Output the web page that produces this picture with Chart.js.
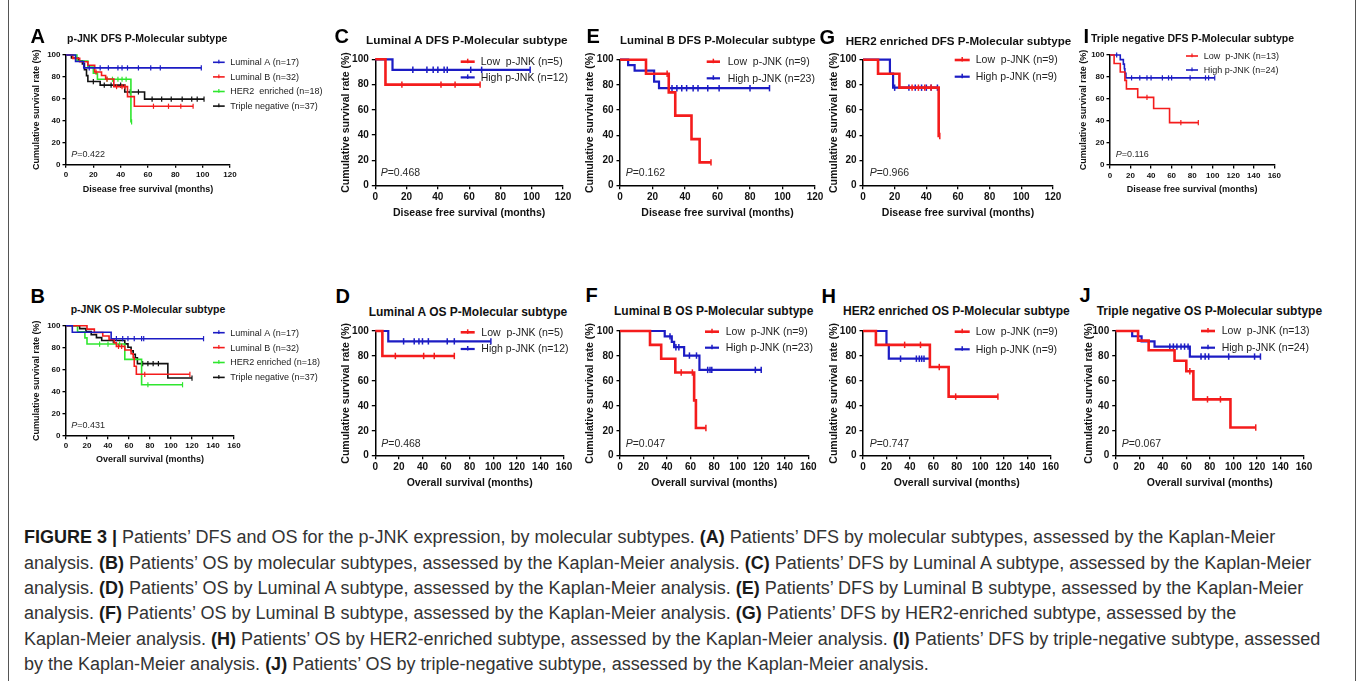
<!DOCTYPE html>
<html><head><meta charset="utf-8">
<script src="https://cdn.jsdelivr.net/npm/chart.js@4.4.1/dist/chart.umd.min.js"></script>
<style>
html,body{margin:0;padding:0;background:#fff;}
body{width:1357px;height:681px;position:relative;overflow:hidden;font-family:"Liberation Sans",Arial,Helvetica,sans-serif;}
.t{position:absolute;white-space:nowrap;line-height:1;}
canvas{position:absolute;}
.cap{position:absolute;left:24px;white-space:nowrap;line-height:1;font-size:18px;color:#333;}
.cap b{color:#1a1a1a;}
.frame{position:absolute;top:0;width:0;height:681px;border-left:1.5px solid #555;}
</style></head><body>
<div class="frame" style="left:7.5px"></div>
<div class="frame" style="left:1354.5px"></div>
<script>
// ---------- tick labels ----------
const X_TICKS_120 = [0, 20, 40, 60, 80, 100, 120];
const X_TICKS_160 = [0, 20, 40, 60, 80, 100, 120, 140, 160];
const Y_TICKS = [0, 20, 40, 60, 80, 100];

// ---------- panel A: DFS by molecular subtype ----------
const A_lumA_steps = [[0,100],[7,94.1],[13,88.2]];
const A_lumA_cens  = [17,25,31,38,41,45,53,62,69,99];
const A_lumB_steps = [[0,100],[5,96.9],[10,93.8],[16,90.6],[21,84.4],[26,81.2],[29,78.0],[35,71.1],[45,61.9],[50,53.1]];
const A_lumB_cens  = [22,30,37,41,43,64,75,84,93];
const A_her2_steps = [[0,100],[8,94.4],[16,88.9],[20,83.3],[23,77.8],[47.5,38.9]];
const A_her2_cens  = [30,34,38,41,44,48];
const A_tn_steps   = [[0,100],[4,97.3],[9,94.6],[12,91.9],[13.5,86.5],[15,81.1],[16,75.7],[25,72.4],[43,66.2],[57.5,59.6]];
const A_tn_cens    = [20,28,33,40,47,53,63,70,77,85,92,96,101];

// ---------- panel B: OS by molecular subtype ----------
const B_lumA_steps = [[0,100],[6,94.1],[43,88.2]];
const B_lumA_cens  = [48,54,59,65,72,74,131];
const B_lumB_steps = [[0,100],[20,96.9],[27,93.8],[35,90.6],[41,87.5],[46,84.4],[48,81.2],[56,77.9],[62,74.5],[64,70.8],[65,63.1],[67,55.8]];
const B_lumB_cens  = [50,53,75,118];
const B_her2_steps = [[0,100],[11,94.4],[18,88.9],[20,83.3],[56,69.4],[72,46.3]];
const B_her2_cens  = [32,40,51,78,111];
const B_tn_steps   = [[0,100],[13,97.3],[19,94.6],[24,91.9],[29,89.2],[34,86.5],[56,83.5],[59,80.4],[62,77.2],[64,74.0],[66,70.8],[68,65.5],[97,52.4]];
const B_tn_cens    = [45,73,78,83,88,120];

// ---------- panels C-J: low vs high p-JNK ----------
const C_low_steps  = [[0,100],[6.5,80]];
const C_low_cens   = [17,42,51,67];
const C_high_steps = [[0,100],[11,91.7]];
const C_high_cens  = [24,33,37,40,44,46,61,68,99];

const D_low_steps  = [[0,100],[6,80]];
const D_low_cens   = [17,41,50,67];
const D_high_steps = [[0,100],[11,91.7]];
const D_high_cens  = [24,33,37,40,45,61,67,98];

const E_low_steps  = [[0,100],[16,88.9],[30,74.1],[34,55.6],[44,37.0],[49,18.5]];
const E_low_cens   = [29,56];
const E_high_steps = [[0,100],[5,95.7],[9,91.3],[21,82.6],[24,77.4]];
const E_high_cens  = [32,35,38,41,45,48,54,61,80,92];

const F_low_steps  = [[0,100],[25.5,88.9],[35,77.8],[47,66.7],[63,44.4],[64.5,22.2]];
const F_low_cens   = [52,61.5,73];
const F_high_steps = [[0,100],[38,95.7],[44,91.3],[46,87.0],[54.5,80.3],[67.5,68.8]];
const F_high_cens  = [42.5,47.5,50,59,65,74.5,76.5,78,115,120];

const G_low_steps  = [[0,100],[9.5,88.9],[23,77.8],[47.8,39.5]];
const G_low_cens   = [31,35,39,43,48.5];
const G_high_steps = [[0,100],[17,88.9],[19,77.8]];
const G_high_cens  = [20,29,33,37,40,43,47];

const H_low_steps  = [[0,100],[11,88.9],[57,71.1],[73,47.4]];
const H_low_cens   = [35.5,49,65,79,115];
const H_high_steps = [[0,100],[20,88.9],[22,77.8]];
const H_high_cens  = [32,45.5,48,50,52,57];

const I_low_steps  = [[0,100],[4,92.3],[10,84.6],[14.5,76.9],[16,69.2],[27,61.5],[42.5,51.3],[58,38.5]];
const I_low_cens   = [36,69,86];
const I_high_steps = [[0,100],[10,95.8],[13,91.7],[14,87.5],[14.5,83.3],[15.5,79.2]];
const I_high_cens  = [6.5,21,29,36,40,51,57,60,78,93,96,102];

const J_low_steps  = [[0,100],[19,92.3],[28,84.6],[50,76.2],[60,67.7],[66,45.2],[97.5,22.6]];
const J_low_cens   = [63,78,89,119];
const J_high_steps = [[0,100],[14,95.8],[22,91.7],[33,87.5],[63,79.5]];
const J_high_cens  = [46,49,52,55.5,58.5,61.5,72.5,76,79,96,118,123];

// ---------- text ----------
const SUBTYPE_LABELS = ['Luminal A (n=17)', 'Luminal B (n=32)', 'HER2  enriched (n=18)', 'Triple negative (n=37)'];
const SUBTYPE_LABELS_B = ['Luminal A (n=17)', 'Luminal B (n=32)', 'HER2 enriched (n=18)', 'Triple negative (n=37)'];
const P_VALUES = {A:'0.422', B:'0.431', C:'0.468', D:'0.468', E:'0.162', F:'0.047', G:'0.966', H:'0.747', I:'0.116', J:'0.067'};
const TITLES = {
  A:'p-JNK DFS P-Molecular subtype', B:'p-JNK OS P-Molecular subtype',
  C:'Luminal A DFS P-Molecular subtype', D:'Luminal A OS P-Molecular subtype',
  E:'Luminal B DFS P-Molecular subtype', F:'Luminal B OS P-Molecular subtype',
  G:'HER2 enriched DFS P-Molecular subtype', H:'HER2 enriched OS P-Molecular subtype',
  I:'Triple negative DFS P-Molecular subtype', J:'Triple negative OS P-Molecular subtype'
};
const DFS_TITLE = 'Disease free survival (months)';
const OS_TITLE = 'Overall survival (months)';
const Y_TITLE = 'Cumulative survival rate (%)';

const FONT = '"Liberation Sans", Arial, Helvetica, sans-serif';
const BLUE = '#1c1cc4', RED = '#f41c1c', GREEN = '#2fe62f', BLACK = '#111111';

function buildPoints(steps, cens) {
  const pts = steps.map(([t, s]) => ({x: t, y: s, c: 0}));
  cens.forEach(t => {
    let s = steps[0][1];
    for (const [st, sv] of steps) if (st <= t) s = sv;
    pts.push({x: t, y: s, c: 1});
  });
  pts.sort((a, b) => (a.x - b.x) || (a.c - b.c));
  return pts;
}

function addText(html, x, base, size, weight, color) {
  const d = document.createElement('div');
  d.className = 't';
  d.style.left = x + 'px';
  d.style.top = (base - 0.8465 * size) + 'px';
  d.style.fontSize = size + 'px';
  d.style.fontWeight = weight;
  d.style.color = color;
  d.innerHTML = html;
  document.body.appendChild(d);
}

const kmDecor = {
  id: 'kmDecor',
  afterDraw(chart, args, o) {
    const ctx = chart.ctx;
    ctx.save();
    const lg = o.legend;
    chart.data.datasets.forEach((ds, i) => {
      const y = lg.y0 + i * lg.dy - o.top;
      const x1 = lg.x1 - o.left, x2 = lg.x2 - o.left;
      ctx.strokeStyle = ds.borderColor;
      ctx.lineWidth = ds.borderWidth;
      ctx.beginPath(); ctx.moveTo(x1, y); ctx.lineTo(x2, y); ctx.stroke();
      const xm = (x1 + x2) / 2;
      ctx.lineWidth = ds.pointBorderWidth;
      ctx.beginPath(); ctx.moveTo(xm, y - lg.tick); ctx.lineTo(xm, y + lg.tick * 0.5); ctx.stroke();
      ctx.fillStyle = '#222';
      ctx.font = lg.size + 'px ' + FONT;
      ctx.textBaseline = 'middle';
      ctx.textAlign = 'left';
      ctx.fillText(ds.label, lg.tx - o.left, y + 0.5);
    });
    const p = o.p;
    ctx.fillStyle = '#2a2a2a';
    ctx.textBaseline = 'alphabetic';
    ctx.font = 'italic ' + p.size + 'px ' + FONT;
    const px = p.x - o.left, py = p.y - o.top;
    ctx.fillText('P', px, py);
    const w = ctx.measureText('P').width;
    ctx.font = p.size + 'px ' + FONT;
    ctx.fillText('=' + p.val, px + w, py);
    ctx.restore();
  }
};

function makePanel(cfg) {
  const small = cfg.small;
  const tickSize = small ? 8 : 10;
  const axSize = small ? 9 : 10.5;
  const lh = axSize * 1.2;
  const left = Math.round(cfg.yTitleX - lh / 2);
  const top = Math.round(cfg.T - 10);
  const yW = cfg.L - left;
  const padTop = cfg.T - top;
  const padRight = Math.max(14, cfg.legend.tx + 95 - cfg.R);
  const xH = cfg.xTitleY + lh / 2 - cfg.B;
  const width = Math.ceil(yW + (cfg.R - cfg.L) + padRight);
  const height = Math.ceil(padTop + (cfg.B - cfg.T) + xH);
  const realPadRight = width - yW - (cfg.R - cfg.L);
  const realPadBottom = height - padTop - (cfg.B - cfg.T) - xH;

  const cv = document.createElement('canvas');
  cv.width = width; cv.height = height;
  cv.style.left = left + 'px'; cv.style.top = top + 'px';
  cv.style.width = width + 'px'; cv.style.height = height + 'px';
  document.body.appendChild(cv);

  const lw = small ? 1.6 : 2.2;
  const censR = small ? 2.6 : 3.2;
  const datasets = cfg.series.map(s => ({
    label: s.label,
    data: buildPoints(s.steps, s.cens),
    borderColor: s.color,
    borderWidth: s.color === RED && !small ? lw + 0.4 : lw,
    stepped: 'before',
    fill: false,
    tension: 0,
    pointStyle: 'line',
    pointRotation: 90,
    pointRadius: ctx => (ctx.raw && ctx.raw.c) ? censR : 0,
    pointHoverRadius: 0,
    pointHitRadius: 0,
    pointBorderColor: s.color,
    pointBackgroundColor: s.color,
    pointBorderWidth: small ? 1.2 : 1.5,
    clip: false
  }));

  const tickFont = {family: FONT, size: tickSize, weight: 'bold'};
  const titleFont = {family: FONT, size: axSize, weight: 'bold'};
  new Chart(cv, {
    type: 'line',
    data: {datasets},
    options: {
      responsive: false,
      animation: false,
      devicePixelRatio: 1,
      events: [],
      layout: {padding: {top: padTop, right: realPadRight, left: 0, bottom: realPadBottom}},
      plugins: {
        legend: {display: false},
        tooltip: {enabled: false},
        title: {display: false},
        kmDecor: {
          left, top,
          legend: {x1: cfg.legend.x1, x2: cfg.legend.x2, tx: cfg.legend.tx, y0: cfg.legend.y0, dy: cfg.legend.dy,
                   size: small ? 9 : 10.5, tick: small ? 2.5 : 3},
          p: {x: cfg.p.x, y: cfg.p.y, size: small ? 9 : 10.5, val: P_VALUES[cfg.id]}
        }
      },
      scales: {
        x: {
          type: 'linear', min: 0, max: cfg.xTicks[cfg.xTicks.length - 1], offset: false,
          afterBuildTicks: s => { s.ticks = cfg.xTicks.map(v => ({value: v})); },
          ticks: {autoSkip: false, maxRotation: 0, minRotation: 0, padding: 2, color: '#111', font: tickFont},
          grid: {display: true, drawOnChartArea: false, drawTicks: true, tickLength: 3.5, color: '#000', lineWidth: 1.3},
          border: {display: true, color: '#000', width: 1.5},
          title: {display: true, text: cfg.xTitle, color: '#111', font: titleFont, padding: 0},
          afterFit: s => { s.height = xH; }
        },
        y: {
          type: 'linear', min: 0, max: 100,
          afterBuildTicks: s => { s.ticks = Y_TICKS.map(v => ({value: v})); },
          ticks: {autoSkip: false, padding: small ? 2 : 3, color: '#111', font: tickFont},
          grid: {display: true, drawOnChartArea: false, drawTicks: true, tickLength: 3.5, color: '#000', lineWidth: 1.3},
          border: {display: true, color: '#000', width: 1.5},
          title: {display: true, text: Y_TITLE, color: '#111', font: titleFont, padding: 0},
          afterFit: s => { s.width = yW; }
        }
      }
    },
    plugins: [kmDecor]
  });

  // panel letter and title
  addText(cfg.id, cfg.letter.x, cfg.letter.base, 20, 'bold', '#000');
  addText(TITLES[cfg.id], cfg.title.x, cfg.title.base, cfg.title.size, 'bold', '#111');
}

function lowHigh(lowN, highN, lowSteps, lowCens, highSteps, highCens) {
  return [
    {label: 'Low  p-JNK (n=' + lowN + ')', steps: lowSteps, cens: lowCens, color: RED},
    {label: 'High p-JNK (n=' + highN + ')', steps: highSteps, cens: highCens, color: BLUE}
  ];
}

const panels = [
  {id:'A', small:true, L:66, T:55, R:230, B:164.3, yTitleX:36.5, xTitleY:189.3, xTicks:X_TICKS_120, xTitle:DFS_TITLE,
   series:[
     {label:SUBTYPE_LABELS[0], steps:A_lumA_steps, cens:A_lumA_cens, color:BLUE},
     {label:SUBTYPE_LABELS[1], steps:A_lumB_steps, cens:A_lumB_cens, color:RED},
     {label:SUBTYPE_LABELS[2], steps:A_her2_steps, cens:A_her2_cens, color:GREEN},
     {label:SUBTYPE_LABELS[3], steps:A_tn_steps, cens:A_tn_cens, color:BLACK}],
   legend:{x1:213, x2:224.7, tx:230.3, y0:62.3, dy:14.6}, p:{x:71.3, y:156.7},
   title:{x:67, base:42.3, size:10.5}, letter:{x:30.5, base:43}},
  {id:'B', small:true, L:66, T:325.7, R:234, B:435.7, yTitleX:36.5, xTitleY:460, xTicks:X_TICKS_160, xTitle:OS_TITLE,
   series:[
     {label:SUBTYPE_LABELS_B[0], steps:B_lumA_steps, cens:B_lumA_cens, color:BLUE},
     {label:SUBTYPE_LABELS_B[1], steps:B_lumB_steps, cens:B_lumB_cens, color:RED},
     {label:SUBTYPE_LABELS_B[2], steps:B_her2_steps, cens:B_her2_cens, color:GREEN},
     {label:SUBTYPE_LABELS_B[3], steps:B_tn_steps, cens:B_tn_cens, color:BLACK}],
   legend:{x1:213, x2:224.7, tx:230.3, y0:332.7, dy:14.9}, p:{x:71.3, y:428.3},
   title:{x:70.7, base:312.7, size:10.5}, letter:{x:30.5, base:303}},
  {id:'C', L:375.3, T:59.3, R:563, B:185.7, yTitleX:346, xTitleY:213, xTicks:X_TICKS_120, xTitle:DFS_TITLE,
   series: lowHigh(5, 12, C_low_steps, C_low_cens, C_high_steps, C_high_cens),
   legend:{x1:460.7, x2:474.7, tx:480.7, y0:61.7, dy:15.7}, p:{x:380.7, y:175.7},
   title:{x:366, base:45, size:11.8}, letter:{x:334.5, base:43}},
  {id:'D', L:375.3, T:331, R:564, B:455.7, yTitleX:346, xTitleY:483, xTicks:X_TICKS_160, xTitle:OS_TITLE,
   series: lowHigh(5, 12, D_low_steps, D_low_cens, D_high_steps, D_high_cens),
   legend:{x1:460.7, x2:474.7, tx:481.3, y0:332.3, dy:16.7}, p:{x:381.3, y:447.3},
   title:{x:368.7, base:316, size:12}, letter:{x:335.5, base:302.5}},
  {id:'E', L:620, T:59.7, R:815, B:185.7, yTitleX:590, xTitleY:213, xTicks:X_TICKS_120, xTitle:DFS_TITLE,
   series: lowHigh(9, 23, E_low_steps, E_low_cens, E_high_steps, E_high_cens),
   legend:{x1:706.7, x2:720, tx:727.7, y0:61.7, dy:16.6}, p:{x:625.7, y:175.7},
   title:{x:620, base:45, size:11.4}, letter:{x:586.5, base:43}},
  {id:'F', L:620, T:331, R:808.3, B:455.7, yTitleX:590, xTitleY:483, xTicks:X_TICKS_160, xTitle:OS_TITLE,
   series: lowHigh(9, 23, F_low_steps, F_low_cens, F_high_steps, F_high_cens),
   legend:{x1:705, x2:719, tx:725.7, y0:331.7, dy:16}, p:{x:625.7, y:447.3},
   title:{x:614, base:315, size:12}, letter:{x:585.5, base:302}},
  {id:'G', L:863, T:59.7, R:1053, B:185.7, yTitleX:834.7, xTitleY:213, xTicks:X_TICKS_120, xTitle:DFS_TITLE,
   series: lowHigh(9, 9, G_low_steps, G_low_cens, G_high_steps, G_high_cens),
   legend:{x1:954.7, x2:969.7, tx:975.7, y0:60, dy:16.7}, p:{x:869.7, y:175.7},
   title:{x:845.7, base:45, size:11.6}, letter:{x:819.5, base:43.5}},
  {id:'H', L:863, T:331, R:1050.7, B:455.7, yTitleX:834.7, xTitleY:483, xTicks:X_TICKS_160, xTitle:OS_TITLE,
   series: lowHigh(9, 9, H_low_steps, H_low_cens, H_high_steps, H_high_cens),
   legend:{x1:954.7, x2:969.7, tx:975.7, y0:331.7, dy:17.6}, p:{x:869.7, y:447.3},
   title:{x:843, base:315, size:12}, letter:{x:821.5, base:302.5}},
  {id:'I', small:true, L:1110, T:55, R:1274.3, B:165, yTitleX:1083.5, xTitleY:189.3, xTicks:X_TICKS_160, xTitle:DFS_TITLE,
   series: lowHigh(13, 24, I_low_steps, I_low_cens, I_high_steps, I_high_cens),
   legend:{x1:1186, x2:1198, tx:1203.7, y0:56, dy:14}, p:{x:1115.7, y:156.7},
   title:{x:1091, base:42.3, size:10.5}, letter:{x:1083.5, base:43.3}},
  {id:'J', L:1115.7, T:331, R:1304, B:455.7, yTitleX:1089, xTitleY:483, xTicks:X_TICKS_160, xTitle:OS_TITLE,
   series: lowHigh(13, 24, J_low_steps, J_low_cens, J_high_steps, J_high_cens),
   legend:{x1:1201, x2:1215, tx:1221.7, y0:331, dy:16.7}, p:{x:1121.7, y:447.3},
   title:{x:1096.7, base:315, size:12}, letter:{x:1079.5, base:302}}
];

panels.forEach(makePanel);

// ---------- caption ----------
const CAPTION_LINES = [
  '<b>FIGURE 3 |</b> Patients’ DFS and OS for the p-JNK expression, by molecular subtypes. <b>(A)</b> Patients’ DFS by molecular subtypes, assessed by the Kaplan-Meier',
  'analysis. <b>(B)</b> Patients’ OS by molecular subtypes, assessed by the Kaplan-Meier analysis. <b>(C)</b> Patients’ DFS by Luminal A subtype, assessed by the Kaplan-Meier',
  'analysis. <b>(D)</b> Patients’ OS by Luminal A subtype, assessed by the Kaplan-Meier analysis. <b>(E)</b> Patients’ DFS by Luminal B subtype, assessed by the Kaplan-Meier',
  'analysis. <b>(F)</b> Patients’ OS by Luminal B subtype, assessed by the Kaplan-Meier analysis. <b>(G)</b> Patients’ DFS by HER2-enriched subtype, assessed by the',
  'Kaplan-Meier analysis. <b>(H)</b> Patients’ OS by HER2-enriched subtype, assessed by the Kaplan-Meier analysis. <b>(I)</b> Patients’ DFS by triple-negative subtype, assessed',
  'by the Kaplan-Meier analysis. <b>(J)</b> Patients’ OS by triple-negative subtype, assessed by the Kaplan-Meier analysis.'
];
CAPTION_LINES.forEach((html, i) => {
  const d = document.createElement('div');
  d.className = 'cap';
  d.style.top = (543.5 + i * 25.4 - 0.8465 * 18) + 'px';
  d.innerHTML = html;
  document.body.appendChild(d);
});
</script>
</body></html>
